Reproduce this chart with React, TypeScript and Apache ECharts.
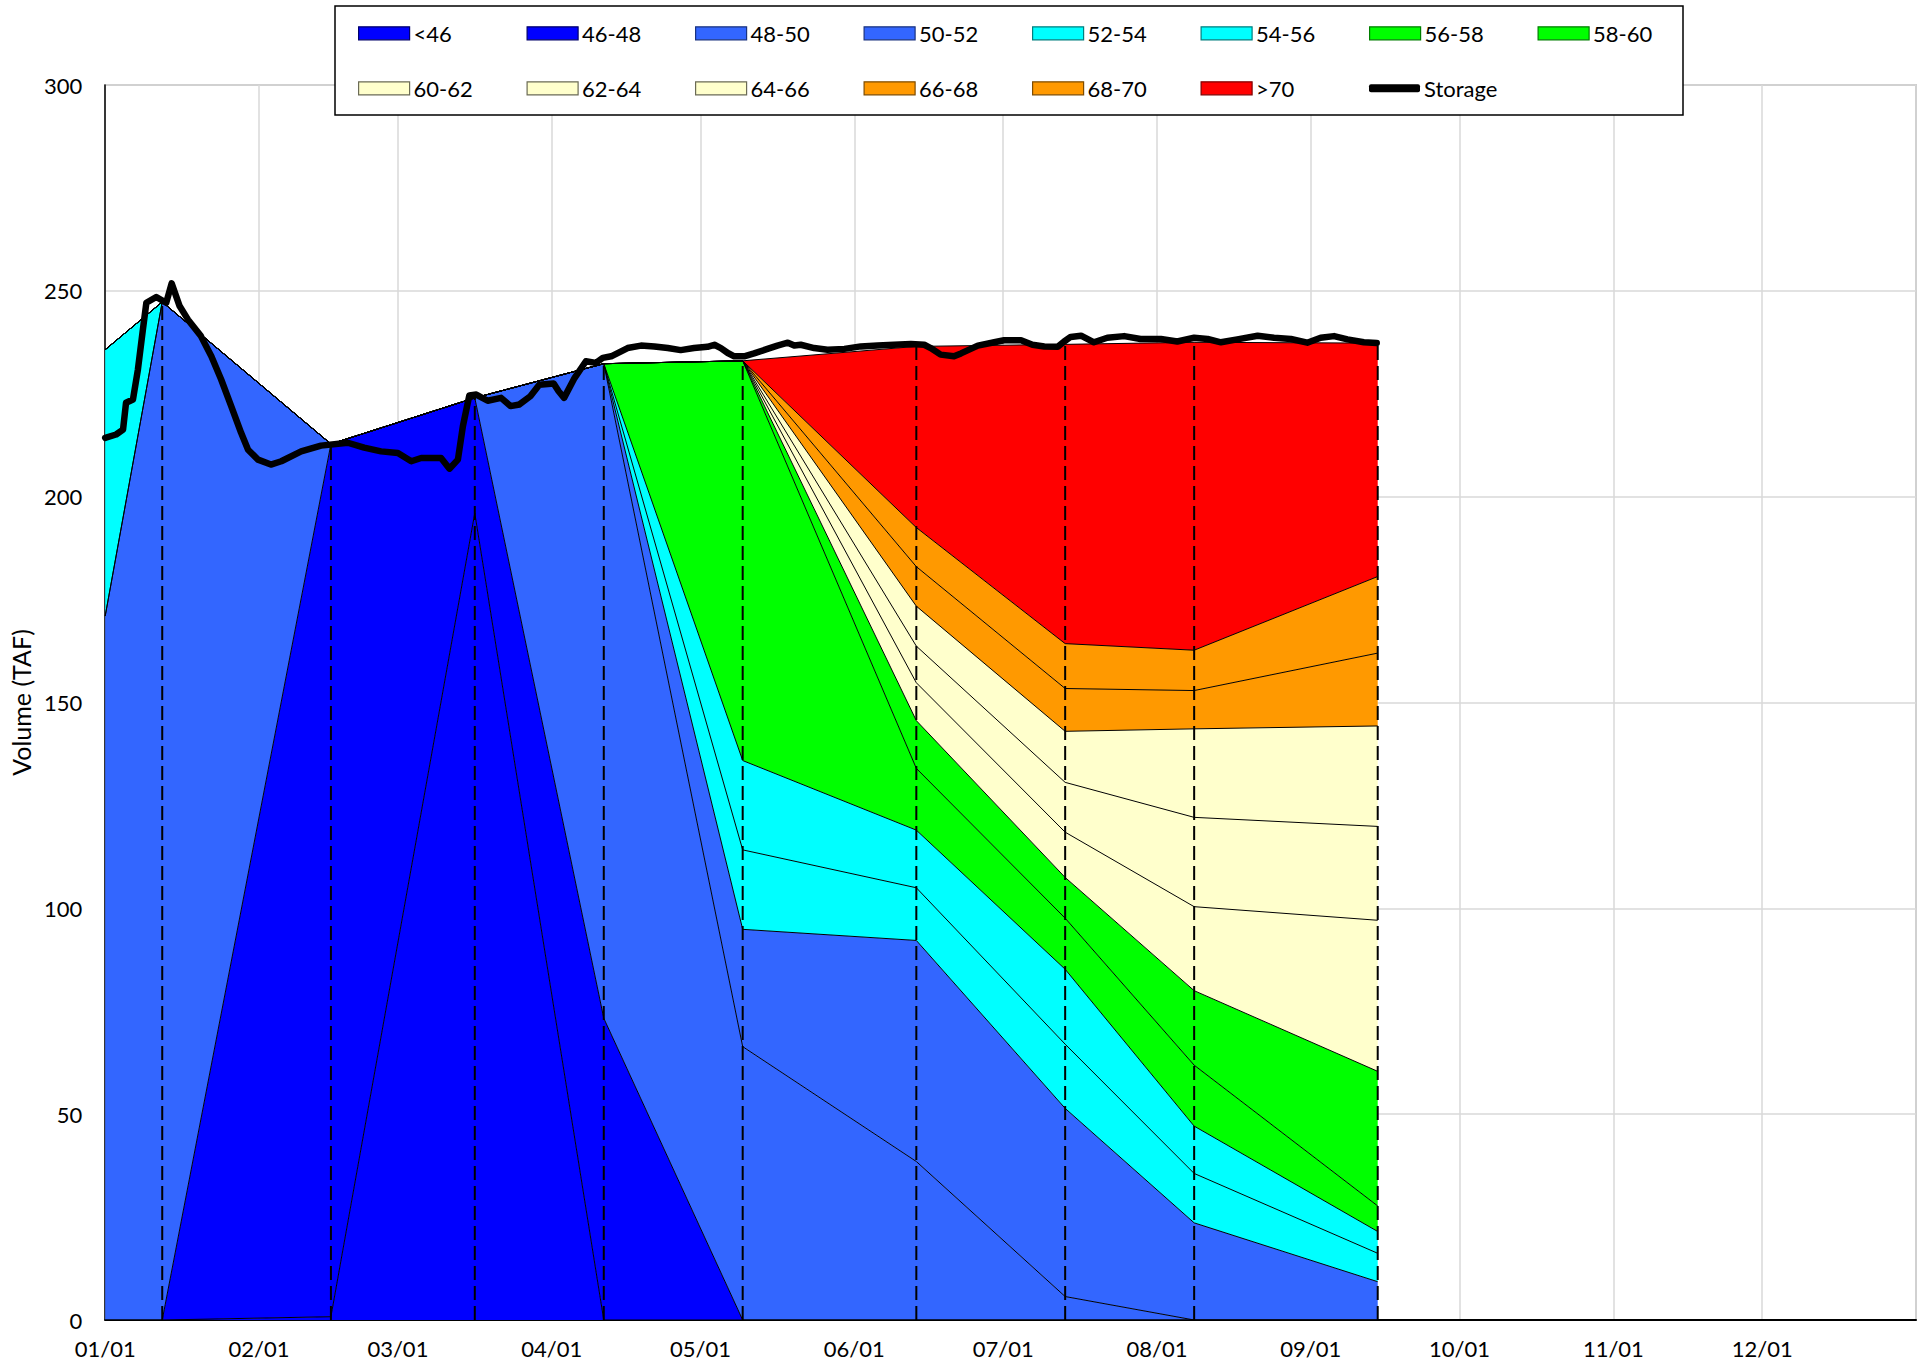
import React, { useEffect, useRef } from "react";
import * as echarts from "echarts";

const DAY = 86400000;
const T0 = new Date(2021, 0, 1).getTime();
const T1 = new Date(2022, 0, 1).getTime();
const ts = (d: number) => T0 + d * DAY;

const FONT = "Lato, 'Open Sans', sans-serif";

// Temperature bands (deg F) and colours
const bandNames = ["<46", "46-48", "48-50", "50-52", "52-54", "54-56", "56-58", "58-60", "60-62", "62-64", "64-66", "66-68", "68-70", ">70"];
const bandColors = ["#0000FF", "#0000FF", "#3366FF", "#3366FF", "#00FFFF", "#00FFFF", "#00FF00", "#00FF00", "#FFFFCC", "#FFFFCC", "#FFFFCC", "#FF9900", "#FF9900", "#FF0000"];
const bandBorders = ["#00006b", "#00006b", "#1a3380", "#1a3380", "#007f7f", "#007f7f", "#007f00", "#007f00", "#6b6b55", "#6b6b55", "#6b6b55", "#7f4c00", "#7f4c00", "#7f0000"];

// Profile dates (days after Jan 1)
const profileDays = [0, 11.5, 45.5, 74.5, 100.5, 128.5, 163.5, 193.5, 219.5, 256.5];

// Cumulative volume (TAF) below the top of each band, per profile date
const topsJan01 = [0, 0, 171, 171, 235.7, 235.7, 235.7, 235.7, 235.7, 235.7, 235.7, 235.7, 235.7, 235.7];
const topsJan12 = [0, 0, 247.3, 247.3, 247.3, 247.3, 247.3, 247.3, 247.3, 247.3, 247.3, 247.3, 247.3, 247.3];
const topsFeb15 = [0.8, 212.8, 212.8, 212.8, 212.8, 212.8, 212.8, 212.8, 212.8, 212.8, 212.8, 212.8, 212.8, 212.8];
const topsMar16 = [196, 224, 224, 224, 224, 224, 224, 224, 224, 224, 224, 224, 224, 224];
const topsApr11 = [0, 73.3, 232.3, 232.3, 232.3, 232.3, 232.3, 232.3, 232.3, 232.3, 232.3, 232.3, 232.3, 232.3];
const topsMay09 = [0, 0, 66.4, 94.9, 114.2, 135.9, 233, 233, 233, 233, 233, 233, 233, 233];
const topsJun13 = [0, 0, 38.5, 92.2, 105, 119, 134, 145.6, 154.8, 163.7, 173.4, 183, 192.5, 236.5];
const topsJul13 = [0, 0, 5.7, 51.4, 67, 85.2, 97.6, 107.5, 118.5, 130.6, 143, 153.4, 164.3, 237];
const topsAug08 = [0, 0, 0, 23.6, 35.6, 47.1, 61.9, 80, 100.4, 122.1, 143.6, 152.9, 162.7, 237.5];
const topsSep14 = [0, 0, 0, 9.3, 16.2, 21.5, 27.7, 60.4, 97.1, 119.9, 144.3, 162, 180.6, 237.3];
const profileTops = [topsJan01, topsJan12, topsFeb15, topsMar16, topsApr11, topsMay09, topsJun13, topsJul13, topsAug08, topsSep14];

// Storage (TAF)
const storageDays = [0, 2.2, 3.6, 4.2, 5.6, 6.6, 7.6, 8.3, 10.3, 12.3,
  13.4, 15, 16.7, 19.3, 21.4, 23.4, 25.4, 27.4, 28.8, 30.8,
  33.4, 35.5, 39.5, 43.5, 48.9, 52.2, 55.6, 59, 61.7, 63.7,
  67.7, 69.4, 71.1, 72.1, 73.4, 74.8, 77.1, 79.8, 81.7, 83.5,
  85.7, 87.5, 90.4, 91.4, 92.5, 94.6, 96.9, 98.9, 100.3, 102,
  105.3, 108, 110.7, 113.4, 116, 118.7, 121.4, 122.8, 124.1, 125.5,
  126.8, 128.8, 130.8, 133.5, 135.5, 137.6, 138.9, 140.2, 142.9, 145.6,
  149, 152.3, 155.7, 159, 162.4, 165.1, 166.4, 168.4, 171.1, 172.5,
  175.9, 179.2, 181.2, 184.6, 186.9, 189.3, 192, 193.3, 194.6, 196.7,
  199.3, 202, 205.4, 208.7, 212.8, 216.1, 219.5, 222.2, 224.9, 228.2,
  232.3, 235.6, 239, 242.3, 245, 247.7, 250.4, 253.7, 256.3];
const storageValues = [214.3, 215.1, 216.3, 222.8, 223.6, 230.9, 240.6, 247.1, 248.5, 247.1,
  251.8, 246.3, 243, 239, 234.1, 228.4, 222, 215.5, 211.4, 209,
  207.8, 208.6, 211, 212.4, 213.1, 211.9, 211, 210.6, 208.6, 209.4,
  209.4, 206.8, 209, 217.1, 224.6, 224.8, 223.3, 224, 222, 222.4,
  224.4, 227.2, 227.5, 225.6, 224, 228.8, 232.9, 232.5, 233.7, 234.1,
  236.1, 236.7, 236.5, 236.1, 235.6, 236.1, 236.4, 236.9, 236.1, 234.9,
  234.1, 234.1, 234.8, 235.9, 236.7, 237.4, 236.7, 236.9, 236.1, 235.7,
  235.9, 236.5, 236.7, 236.9, 237.1, 236.9, 236.1, 234.5, 234.1, 234.8,
  236.7, 237.5, 238, 238, 236.9, 236.5, 236.4, 237.7, 238.8, 239.1,
  237.5, 238.6, 239, 238.3, 238.3, 237.7, 238.6, 238.3, 237.5, 238.2,
  239.1, 238.6, 238.3, 237.4, 238.6, 239, 238.2, 237.5, 237.3];

const yTicks = { min: 0, max: 300, interval: 50 };

function pad(n: number) {
  return n < 10 ? "0" + n : "" + n;
}

export default function App() {
  const ref = useRef<HTMLDivElement>(null);
  useEffect(() => {
    document.body.style.margin = "0";
    if (!ref.current) return;
    const chart = echarts.init(ref.current, undefined, { renderer: "svg" });

    const areaSeries = bandNames.map((name, k) => ({
      name,
      type: "line",
      stack: "temp",
      symbol: "none",
      showSymbol: false,
      z: 2,
      lineStyle: { color: "#000", width: 1 },
      itemStyle: { color: bandColors[k] },
      areaStyle: { color: bandColors[k], opacity: 1 },
      data: profileDays.map((d, j) => {
        const t = profileTops[j];
        const v = t[k] - (k > 0 ? t[k - 1] : 0);
        return [ts(d), Math.max(0, Math.round(v * 1000) / 1000)];
      }),
    }));

    const dashData = profileDays.slice(1).map((d, j) => [ts(d), profileTops[j + 1][13]]);

    const legendItems = [...bandNames, "Storage"];
    const legends = legendItems.map((name, i) => {
      const col = i % 8;
      const row = Math.floor(i / 8);
      const isStorage = name === "Storage";
      return {
        show: true,
        z: 20,
        left: 358 + col * 168.5,
        top: row === 0 ? 20.8 : 75.8,
        padding: 0,
        itemWidth: 51,
        itemHeight: isStorage ? 8 : 13,
        itemGap: 0,
        selectedMode: false,
        textStyle: { fontFamily: FONT, fontSize: 22, color: "#000", lineHeight: 25, padding: [0, 0, 0, -1] },
        data: [
          isStorage
            ? { name, icon: "roundRect", itemStyle: { color: "#000", borderWidth: 0 } }
            : { name, icon: "rect", itemStyle: { color: bandColors[i], borderColor: bandBorders[i], borderWidth: 1.2 } },
        ],
      };
    });

    const option: any = {
      animation: false,
      backgroundColor: "#fff",
      textStyle: { fontFamily: FONT },
      grid: { left: 104, right: 7, top: 85, bottom: 48, show: true, borderColor: "#A6A6A6", borderWidth: 1.5 },
      legend: legends,
      graphic: [
        {
          type: "rect",
          z: 10,
          shape: { x: 335, y: 6, width: 1348, height: 109 },
          style: { fill: "#fff", stroke: "#000", lineWidth: 1.5 },
        },
      ],
      xAxis: {
        type: "time",
        min: T0,
        max: T1,
        minInterval: 28 * DAY,
        maxInterval: 31 * DAY,
        splitNumber: 12,
        axisLine: { show: true, lineStyle: { color: "#000", width: 2 } },
        axisTick: { show: false },
        splitLine: { show: true, lineStyle: { color: "#D9D9D9", width: 1.5 } },
        axisLabel: {
          showMaxLabel: false,
          fontFamily: FONT,
          fontSize: 22,
          color: "#000",
          margin: 17,
          formatter: (v: number) => {
            const d = new Date(v);
            return pad(d.getMonth() + 1) + "/" + pad(d.getDate());
          },
        },
      },
      yAxis: {
        type: "value",
        min: yTicks.min,
        max: yTicks.max,
        interval: yTicks.interval,
        name: "Volume (TAF)",
        nameLocation: "middle",
        nameGap: 70,
        nameTextStyle: { fontFamily: FONT, fontSize: 25, color: "#000" },
        axisLine: { show: true, lineStyle: { color: "#000", width: 1.5 } },
        axisTick: { show: false },
        splitLine: { show: true, lineStyle: { color: "#D9D9D9", width: 1.5 } },
        axisLabel: { fontFamily: FONT, fontSize: 22, color: "#000", margin: 23 },
      },
      series: [
        ...areaSeries,
        {
          name: "profiles",
          type: "custom",
          z: 3,
          silent: true,
          encode: { x: 0, y: 1 },
          data: dashData,
          renderItem: (params: any, api: any) => {
            const p0 = api.coord([api.value(0), 0]);
            const p1 = api.coord([api.value(0), api.value(1)]);
            return {
              type: "line",
              shape: { x1: p0[0], y1: p0[1], x2: p1[0], y2: p1[1] },
              style: { stroke: "#000", lineWidth: 2, lineDash: [14, 6] },
            };
          },
        },
        {
          name: "Storage",
          type: "line",
          z: 4,
          symbol: "none",
          showSymbol: false,
          itemStyle: { color: "#000" },
          lineStyle: { color: "#000", width: 6.5, cap: "round", join: "round" },
          data: storageDays.map((d, i) => [ts(d), storageValues[i]]),
        },
      ],
    };
    chart.setOption(option);
    return () => chart.dispose();
  }, []);
  return <div ref={ref} style={{ position: "fixed", left: 0, top: 0, width: 1923, height: 1368 }} />;
}
